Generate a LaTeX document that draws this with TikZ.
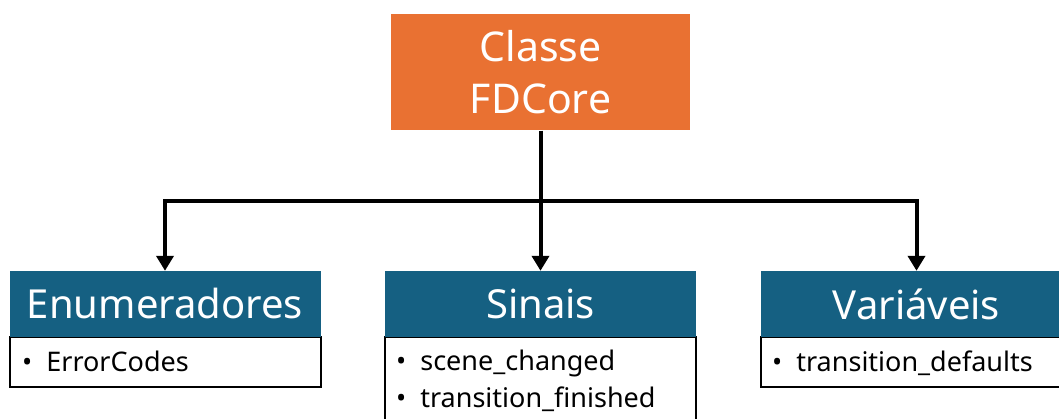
\documentclass[tikz,border=0pt]{standalone}
\usepackage{fontspec}
\setmainfont{Noto Sans}
\usetikzlibrary{arrows.meta}
\definecolor{fdorange}{HTML}{E97132}
\definecolor{fdblue}{HTML}{156082}
\tikzset{
  topbox/.style={rectangle, fill=fdorange, text=white, minimum width=299pt, minimum height=116pt, inner sep=0pt, align=center, font=\fontsize{41}{52}\selectfont},
  headbox/.style={rectangle, fill=fdblue, text=white, minimum width=311pt, minimum height=66pt, inner sep=0pt, font=\fontsize{40}{46}\selectfont},
  bodybox/.style={rectangle, draw=black, line width=2.2pt, fill=white, minimum width=311pt, inner sep=0pt},
  itemtext/.style={anchor=base west, inner sep=0pt, font=\fontsize{27}{30}\selectfont},
  conn/.style={line width=4pt, draw=black},
  arr/.style={conn, -{Triangle[length=15pt,width=17pt]}}
}
\begin{document}
\begin{tikzpicture}[x=1pt,y=-1pt]
\useasboundingbox (0,0) rectangle (1059,419);
% top
\node[topbox] (top) at (540.5,72.5) {Classe\\FDCore};
% bodies
\node[bodybox, minimum height=50pt] (enumbody) at (165.5,362) {};
\node[bodybox, minimum height=100pt] (sinbody) at (540.5,387) {};
\node[bodybox, minimum height=50pt] (varbody) at (916.5,362) {};
% headers
\node[headbox] (enum) at (165,304) {Enumeradores};
\node[headbox] (sin) at (540.5,304) {Sinais};
\node[headbox] (var) at (916.5,304) {Variáveis};
% items
\node[itemtext] (e1) at (22,371) {•\hspace{14pt}ErrorCodes};
\node[itemtext] (s1) at (396,370) {•\hspace{14pt}scene\_changed};
\node[itemtext] (s2) at (396,407) {•\hspace{14pt}transition\_finished};
\node[itemtext] (v1) at (772,371) {•\hspace{14pt}transition\_defaults};
% connectors
\coordinate (split) at (540.5,201);
\draw[arr] (top.south) -- (sin.north);
\draw[arr] (split) -| (enum.north);
\draw[arr] (split) -| (var.north);
\end{tikzpicture}
\end{document}
